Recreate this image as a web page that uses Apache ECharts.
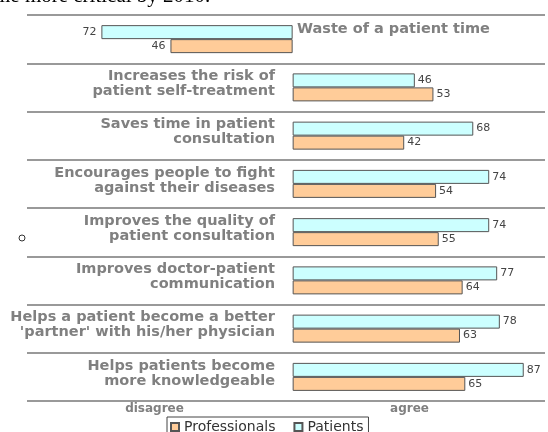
<!DOCTYPE html>
<html>
<head>
<meta charset="utf-8">
<script src="https://cdn.jsdelivr.net/npm/echarts@6/dist/echarts.min.js"></script>
<style>
  html, body { margin: 0; padding: 0; background: #fff; }
  #chart { width: 548px; height: 432px; }
</style>
</head>
<body>
<div id="chart"></div>
<script>
// statements, top to bottom
const categories = [
  'Waste of a patient time',
  'Increases the risk of\npatient self-treatment',
  'Saves time in patient\nconsultation',
  'Encourages people to fight\nagainst their diseases',
  'Improves the quality of\npatient consultation',
  'Improves doctor-patient\ncommunication',
  "Helps a patient become a better\n'partner' with his/her physician",
  'Helps patients become\nmore knowledgeable'
]
// which side of the scale each statement is drawn on
const sides = ['disagree', 'agree', 'agree', 'agree', 'agree', 'agree', 'agree', 'agree']
const patients = [72, 46, 68, 74, 74, 77, 78, 87]
const professionals = [46, 53, 42, 54, 55, 64, 63, 65]
const scaleLabels = ['disagree', 'agree']
const scaleValues = [-52, 44]

const labelGray = '#808080'
const toItems = (arr) => arr.map((v, i) => {
  if (sides[i] === 'disagree') {
    return { value: -v, label: { position: 'left', distance: 5 } }
  }
  return { value: v }
})

const barLabel = {
  show: true,
  position: 'right',
  distance: 3,
  fontFamily: 'DejaVu Sans',
  fontSize: 11,
  color: '#444',
  formatter: (p) => Math.abs(p.value)
}

// statement text lifted a little above the row centre, like the original
const leftLabel = (v, i) => {
  if (sides[i] === 'disagree') return ''
  return v.split('\n').map((s) => '{a|' + s + '}').join('\n') + '\n{s|}'
}

const chart = echarts.init(document.getElementById('chart'))
chart.setOption({
  animation: false,
  backgroundColor: '#fff',
  grid: { left: 27, right: 3, top: 15, bottom: 31, containLabel: false },
  xAxis: {
    type: 'value',
    min: -100,
    max: 95,
    axisLine: { show: false },
    axisTick: { show: false },
    splitLine: { show: false },
    axisLabel: {
      customValues: scaleValues,
      formatter: (v) => scaleLabels[scaleValues.indexOf(v)] || '',
      margin: 2,
      fontFamily: 'DejaVu Sans',
      fontWeight: 'bold',
      fontSize: 12,
      color: labelGray
    }
  },
  yAxis: [
    {
      type: 'category',
      data: categories,
      inverse: true,
      offset: -256,
      axisLine: { show: false },
      axisTick: { show: false },
      splitLine: { show: true, lineStyle: { color: '#777', width: 1.5 } },
      axisLabel: {
        margin: 8,
        interval: 0,
        align: 'right',
        formatter: leftLabel,
        rich: {
          a: {
            fontFamily: 'DejaVu Sans',
            fontWeight: 'bold',
            fontSize: 14.5,
            lineHeight: 15,
            color: labelGray,
            align: 'right'
          },
          s: { fontSize: 1, lineHeight: 7 }
        }
      }
    },
    {
      type: 'category',
      data: categories,
      inverse: true,
      position: 'right',
      offset: -256,
      axisLine: { show: false },
      axisTick: { show: false },
      splitLine: { show: false },
      axisLabel: {
        margin: 8,
        interval: 0,
        align: 'left',
        fontFamily: 'DejaVu Sans',
        fontWeight: 'bold',
        fontSize: 14.5,
        lineHeight: 20,
        color: labelGray,
        formatter: (v, i) => (sides[i] === 'disagree' ? v + '\n' : '')
      }
    }
  ],
  legend: {
    data: ['Professionals', 'Patients'],
    left: 167,
    top: 417,
    padding: [3, 5, 3, 3],
    itemGap: 18,
    itemWidth: 8,
    itemHeight: 8,
    icon: 'rect',
    borderColor: '#444',
    borderWidth: 1,
    textStyle: { fontFamily: 'DejaVu Sans', fontSize: 14, color: '#333' }
  },
  series: [
    {
      name: 'Patients',
      type: 'bar',
      yAxisIndex: 0,
      data: toItems(patients),
      barWidth: 14,
      barGap: '0%',
      itemStyle: { color: '#CCFFFF', borderColor: '#555', borderWidth: 1 },
      label: barLabel
    },
    {
      name: 'Professionals',
      type: 'bar',
      yAxisIndex: 0,
      data: toItems(professionals),
      barWidth: 14,
      barGap: '0%',
      itemStyle: { color: '#FFCC99', borderColor: '#555', borderWidth: 1 },
      label: barLabel
    }
  ],
  graphic: [
    {
      type: 'text',
      left: -6,
      top: -14,
      style: { text: 'me more critical by 2010.', font: '21px "Liberation Serif"', fill: '#000' }
    },
    {
      type: 'circle',
      shape: { cx: 22, cy: 238, r: 3 },
      style: { fill: '#fff', stroke: '#333', lineWidth: 1 }
    }
  ]
})
</script>
</body>
</html>
